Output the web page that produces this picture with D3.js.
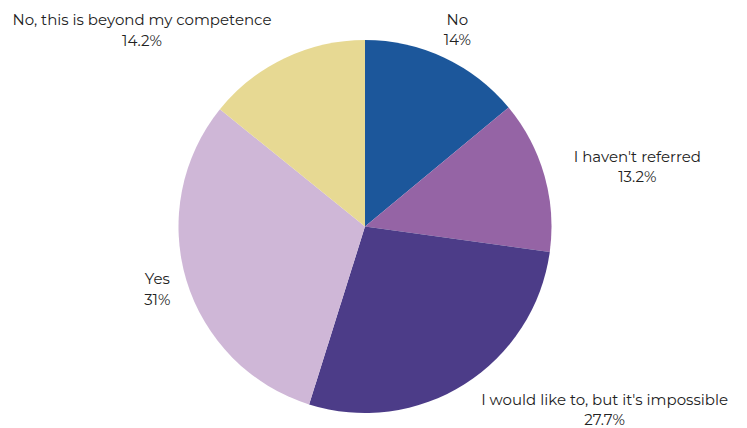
<!DOCTYPE html>
<html><head><meta charset="utf-8">
<script src="https://cdn.jsdelivr.net/npm/d3@7"></script>
<style>html,body{margin:0;padding:0;background:#fff;}svg{display:block;}</style>
</head><body>
<svg id="c" width="747" height="428"></svg>
<script>
const categories = ["No", "I haven't referred", "I would like to, but it's impossible", "Yes", "No, this is beyond my competence"];
const values = [14, 13.2, 27.7, 31, 14.2];
const valueLabels = ["14%", "13.2%", "27.7%", "31%", "14.2%"];
const colors = ["#1c579b", "#9564a5", "#4c3c88", "#cfb7d7", "#e7d993"];

const W = 747, H = 428;
const cx = 365, cy = 226.5, R = 186.5, LR = 217;
const svg = d3.select("#c");
const g = svg.append("g").attr("transform", `translate(${cx},${cy})`);

const data = categories.map((c, i) => ({cat: c, v: values[i], lab: valueLabels[i], col: colors[i]}));
const pie = d3.pie().sort(null).value(d => d.v);
const arcs = pie(data);
const arc = d3.arc().innerRadius(0).outerRadius(R);

g.selectAll("path").data(arcs).join("path")
  .attr("d", arc).attr("fill", d => d.data.col);

const fs = 15, lh = 20.5;
const labels = g.selectAll("g.lab").data(arcs).join("g").attr("class", "lab");
labels.each(function(d) {
  const a = (d.startAngle + d.endAngle) / 2;
  const px = LR * Math.sin(a), py = -LR * Math.cos(a);
  const t = d3.select(this).append("text")
    .attr("font-family", "Montserrat, 'Open Sans', sans-serif")
    .attr("font-size", fs).attr("fill", "#222").attr("text-anchor", "middle");
  const s1 = t.append("tspan").attr("x", px).attr("y", py - lh / 2 + 5).text(d.data.cat);
  const s2 = t.append("tspan").attr("x", px).attr("y", py + lh / 2 + 5).text(d.data.lab);
  const w = this.getBBox().width;
  const half = w / 2;
  // nearest vertical point of the label block to the pie centre
  const top = py - lh, bot = py + lh;
  const yy = (top <= 0 && bot >= 0) ? 0 : Math.min(Math.abs(top), Math.abs(bot));
  let shift = 0;
  if (yy < R) {
    const edge = Math.sqrt(R * R - yy * yy);
    if (px - half < edge && px + half > -edge) shift = px >= 0 ? half : -half;
  }
  s1.attr("x", px + shift);
  s2.attr("x", px + shift);
});
</script>
</body></html>
